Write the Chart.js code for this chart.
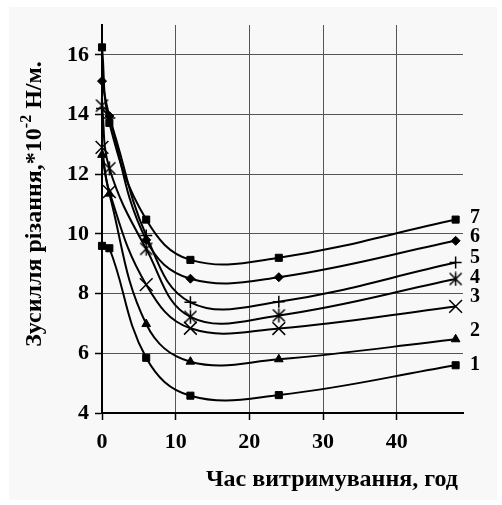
<!DOCTYPE html>
<html lang="uk">
<head>
  <meta charset="UTF-8" />
  <title>Зусилля різання</title>
  <script src="https://cdn.jsdelivr.net/npm/chart.js"></script>
  <style>
    * { margin: 0; padding: 0; box-sizing: border-box; }
    body { background: #fff; width: 502px; height: 505px; overflow: hidden; }
    canvas { display: block; }
  </style>
</head>
<body>
<canvas id="myChart" width="502" height="505"></canvas>
<script>
  // hours of holding
  const hours = [0, 1, 6, 12, 24, 48];

  // cutting force, *10^-2 N/m, curves 1..7
  const s1 = [9.6, 9.52, 5.85, 4.58, 4.6, 5.6];
  const s2 = [12.65, 11.35, 6.98, 5.72, 5.8, 6.47];
  const s3 = [12.9, 11.42, 8.3, 6.84, 6.83, 7.57];
  const s4 = [14.3, 12.2, 9.5, 7.22, 7.27, 8.49];
  const s5 = [14.2, 13.88, 9.95, 7.71, 7.73, 9.04];
  const s6 = [15.12, 13.95, 9.8, 8.5, 8.55, 9.77];
  const s7 = [16.25, 13.72, 10.48, 9.13, 9.2, 10.48];

  const curveNames = ["1", "2", "3", "4", "5", "6", "7"];
  // where the curve numbers sit on the right (value units)
  const nameY = [5.62, 6.75, 7.88, 8.52, 9.2, 9.9, 10.55];

  const xTicks = { min: 0, max: 49, step: 10 };
  const yTicks = { min: 4, max: 17, step: 2 };

  const FONT = "'Liberation Serif', 'Times New Roman', serif";

  // excel-like star marker: X with a vertical bar
  const star = document.createElement("canvas");
  star.width = 15; star.height = 15;
  (function () {
    const c = star.getContext("2d");
    c.strokeStyle = "#000";
    c.lineWidth = 1.5;
    c.beginPath();
    c.moveTo(1.5, 1.5); c.lineTo(13.5, 13.5);
    c.moveTo(13.5, 1.5); c.lineTo(1.5, 13.5);
    c.moveTo(7.5, 0.5); c.lineTo(7.5, 14.5);
    c.stroke();
  })();

  function pts(vals) {
    return vals.map((v, i) => ({ x: hours[i], y: v }));
  }

  function series(vals, style, r, bw) {
    return {
      data: pts(vals),
      showLine: true,
      borderColor: "#000",
      borderWidth: 2,
      tension: 0.4,
      pointStyle: style,
      pointRadius: r,
      pointBackgroundColor: "#000",
      pointBorderColor: "#000",
      pointBorderWidth: bw,
      clip: false
    };
  }

  const sheet = {
    id: "sheet",
    beforeDraw(chart) {
      const c = chart.ctx;
      c.save();
      c.fillStyle = "#fff";
      c.fillRect(0, 0, chart.width, chart.height);
      c.fillStyle = "#f8f8f8";
      c.fillRect(9, 7, 488, 493);
      c.restore();
    }
  };

  const labels = {
    id: "labels",
    afterDraw(chart) {
      const c = chart.ctx;
      const area = chart.chartArea;
      const ys = chart.scales.y;
      c.save();
      c.fillStyle = "#000";

      // curve numbers
      c.font = "bold 20px " + FONT;
      c.textAlign = "left";
      c.textBaseline = "middle";
      curveNames.forEach((n, i) => {
        c.fillText(n, area.right + 7, ys.getPixelForValue(nameY[i]));
      });

      // x title
      c.font = "bold 24px " + FONT;
      c.textAlign = "center";
      c.textBaseline = "alphabetic";
      c.fillText("Час витримування, год", 332, 486);

      // y title with superscript
      const parts = [
        { t: "Зусилля різання,*10", f: "bold 24px " + FONT, dy: 0 },
        { t: "-2", f: "bold 16px " + FONT, dy: -10 },
        { t: " Н/м.", f: "bold 24px " + FONT, dy: 0 }
      ];
      let total = 0;
      parts.forEach(p => { c.font = p.f; p.w = c.measureText(p.t).width; total += p.w; });
      c.translate(41, 204);
      c.rotate(-Math.PI / 2);
      c.textAlign = "left";
      let x = -total / 2;
      parts.forEach(p => {
        c.font = p.f;
        c.fillText(p.t, x, p.dy);
        x += p.w;
      });
      c.restore();
    }
  };

  const ctx = document.getElementById("myChart").getContext("2d");
  const myChart = new Chart(ctx, {
    type: "scatter",
    data: {
      datasets: [
        series(s1, "rect", 5, 1),
        series(s2, "triangle", 5, 1),
        series(s3, "crossRot", 9, 1.5),
        series(s4, star, 8, 1),
        series(s5, "cross", 6, 1.5),
        series(s6, "rectRot", 4.5, 1),
        series(s7, "rect", 5, 1)
      ]
    },
    options: {
      responsive: false,
      animation: false,
      events: [],
      devicePixelRatio: 1,
      layout: { padding: { top: 25, right: 39, left: 0, bottom: 0 } },
      plugins: { legend: { display: false }, tooltip: { enabled: false } },
      scales: {
        x: {
          type: "linear",
          min: xTicks.min,
          max: xTicks.max,
          afterFit(scale) { scale.height = 92; },
          border: { display: true, color: "#000", width: 2 },
          grid: { color: "#555", lineWidth: 1, tickLength: 7, tickColor: "#000", tickWidth: 1.5 },
          ticks: {
            stepSize: xTicks.step,
            includeBounds: false,
            autoSkip: false,
            maxRotation: 0,
            padding: 9,
            color: "#000",
            font: { family: FONT, size: 22, weight: "bold" }
          }
        },
        y: {
          min: yTicks.min,
          max: yTicks.max,
          afterFit(scale) { scale.width = 102; },
          border: { display: true, color: "#000", width: 2 },
          grid: { color: "#555", lineWidth: 1, tickLength: 7, tickColor: "#000", tickWidth: 1.5 },
          ticks: {
            stepSize: yTicks.step,
            includeBounds: false,
            padding: 6,
            color: "#000",
            font: { family: FONT, size: 22, weight: "bold" }
          }
        }
      }
    },
    plugins: [sheet, labels]
  });
</script>
</body>
</html>
